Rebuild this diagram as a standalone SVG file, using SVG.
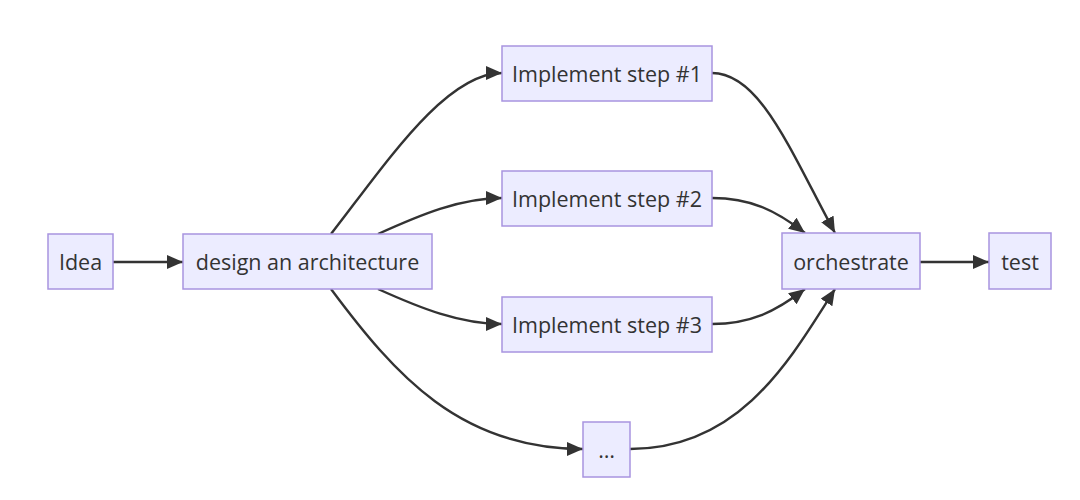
<svg xmlns="http://www.w3.org/2000/svg" width="1080" height="500" viewBox="0 0 1080 500">
<style>
.node rect{fill:#ECECFF;stroke:#a894e0;stroke-width:1.5}
.node text{font-family:"Open Sans","DejaVu Sans",sans-serif;font-size:21.5px;fill:#333;text-anchor:middle;dominant-baseline:central}
.edges path{fill:none;stroke:#333;stroke-width:2.4;marker-end:url(#arr)}
</style>
<defs>
<marker id="arr" viewBox="0 0 16 14" refX="16" refY="7" markerWidth="16" markerHeight="14" markerUnits="userSpaceOnUse" orient="auto">
<path d="M0,0 L16,7 L0,14 z" fill="#333"/>
</marker>
</defs>
<rect width="1080" height="500" fill="#fff"/>
<g class="edges">
<path d="M113,262 L183,262"/>
<path d="M331,234 C385,165 445,73 502,73"/>
<path d="M378,234 C420,215 460,198 502,198"/>
<path d="M378,289 C420,308 460,324 502,324"/>
<path d="M331,289 C395,375 460,449 583,449"/>
<path d="M712,73 C760,73 790,150 835,233"/>
<path d="M712,198 C750,198 775,210 805,233"/>
<path d="M712,324 C750,324 775,312 805,289"/>
<path d="M630,449 C740,449 790,360 835,289"/>
<path d="M920,262 L989,262"/>
</g>
<g id="idea" class="node"><rect x="48" y="234" width="65" height="55"/><text x="80.5" y="261">Idea</text></g>
<g id="design" class="node"><rect x="183" y="234" width="249" height="55"/><text x="307.5" y="261">design an architecture</text></g>
<g id="step1" class="node"><rect x="502" y="46" width="210" height="55"/><text x="607" y="73">Implement step #1</text></g>
<g id="step2" class="node"><rect x="502" y="171" width="210" height="55"/><text x="607" y="198">Implement step #2</text></g>
<g id="step3" class="node"><rect x="502" y="297" width="210" height="55"/><text x="607" y="324">Implement step #3</text></g>
<g id="more" class="node"><rect x="583" y="422" width="47" height="55"/><text x="606.5" y="449">…</text></g>
<g id="orchestrate" class="node"><rect x="782" y="233" width="138" height="56"/><text x="851" y="261">orchestrate</text></g>
<g id="test" class="node"><rect x="989" y="233" width="62" height="56"/><text x="1020" y="261">test</text></g>
</svg>
